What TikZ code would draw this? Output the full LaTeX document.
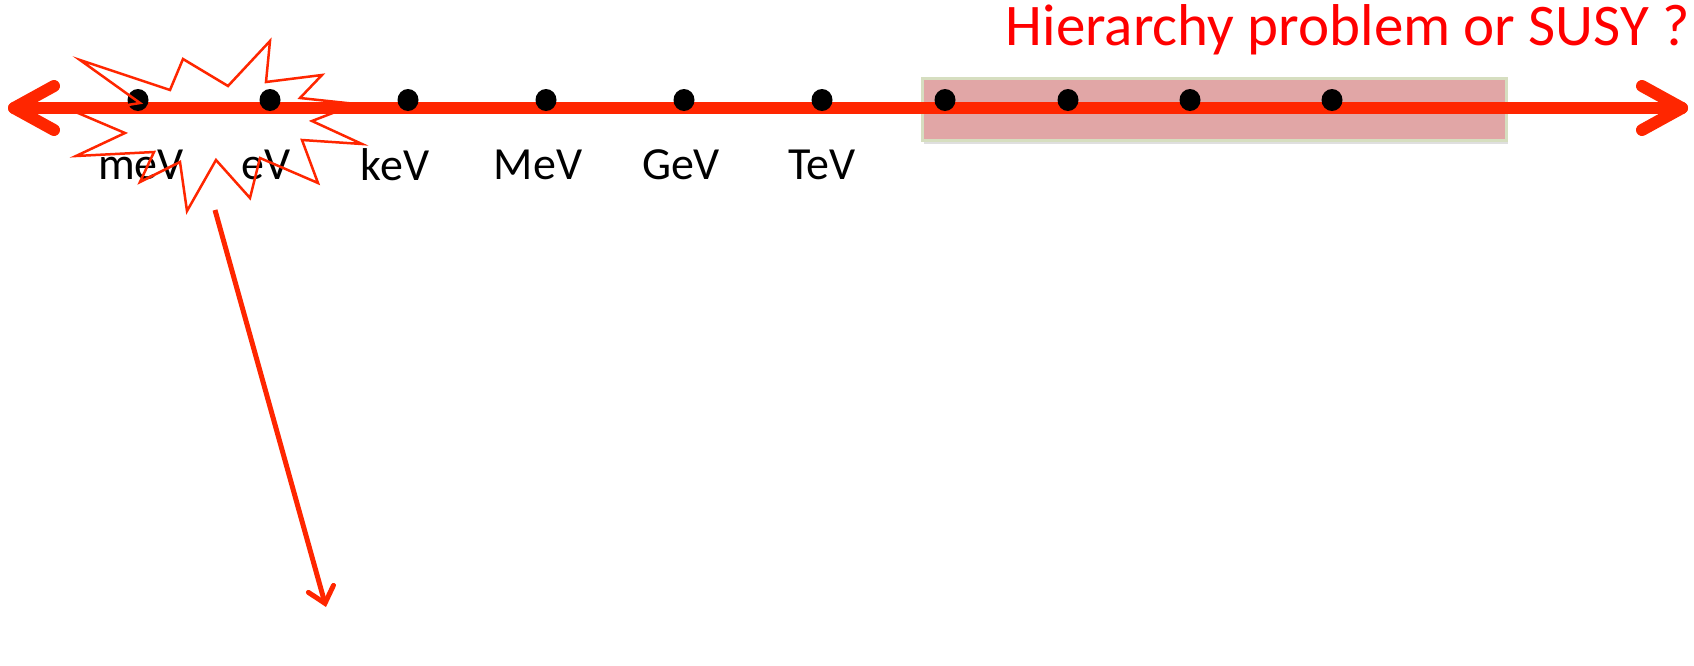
\documentclass[tikz,border=0pt]{standalone}
\usepackage{fontspec}
\setmainfont{Carlito}
\usetikzlibrary{arrows.meta,shapes.geometric,shadows,calc,fit}
\definecolor{axisred}{RGB}{255,38,0}
\definecolor{titlered}{RGB}{255,0,0}
\definecolor{boxfill}{RGB}{225,166,166}
\definecolor{boxedge}{RGB}{214,222,192}
\begin{document}
\begin{tikzpicture}[x=1pt,y=-1pt,
  axisline/.style={draw=axisred,line width=12pt,line cap=round,line join=round},
  dotnode/.style={ellipse,fill=black,minimum width=21pt,minimum height=22pt,inner sep=0pt},
  lbl/.style={font=\fontsize{46}{50}\selectfont,text=black,inner sep=0pt},
  titlenode/.style={font=\fontsize{59}{62}\selectfont,text=titlered,inner sep=0pt},
  burst/.style={draw=axisred,line width=2.5pt,line join=miter},
  ptr/.style={draw=axisred,line width=5pt,-{Straight Barb[length=15pt,width=26pt,line cap=round]}},
  hbox/.style={fill=boxfill,draw=boxedge,line width=3pt,
    drop shadow={opacity=0.25,shadow xshift=2pt,shadow yshift=-4pt}}]
\useasboundingbox (0,0) rectangle (1694,665);
% shaded range box
\node[hbox,fit={(922,78) (1506,140)},inner sep=0pt] (range) {};
% axis
\coordinate (L) at (14,108);
\coordinate (R) at (1682,108);
\draw[axisline] (L) -- (R);
\draw[axisline] ($(L)+(40,-22)$) -- (L) -- ($(L)+(40,22)$);
\draw[axisline] ($(R)+(-40,-22)$) -- (R) -- ($(R)+(-40,22)$);
% dots
\foreach \x/\n in {138/d1,270/d2,408/d3,546/d4,684/d5,822/d6,945/d7,1068/d8,1190/d9,1332/d10}
  \node[dotnode] (\n) at (\x,100) {};
% labels
\node[lbl] (lmeV) at (141,165) {meV};
\node[lbl] (leV) at (266,165) {eV};
\node[lbl] (lkeV) at (395,165) {keV};
\node[lbl] (lMeV) at (538,165) {MeV};
\node[lbl] (lGeV) at (681,165) {GeV};
\node[lbl] (lTeV) at (822,165) {TeV};
% title
\node[titlenode,anchor=base east] (title) at (1690,45) {Hierarchy problem or SUSY ?};
% starburst
\draw[burst] (80,60) -- (170,90) -- (183,59) -- (228,86) -- (270,41) -- (266,82)
  -- (322,75) -- (300,98) -- (356,104) -- (312,121) -- (362,144) -- (302,140)
  -- (318,183) -- (260,158) -- (250,198) -- (216,160) -- (187,211) -- (180,162)
  -- (140,182) -- (154,152) -- (76,156) -- (125,133) -- (78,113) -- (140,103) -- cycle;
% pointer arrow
\coordinate (ps) at (215,210);
\coordinate (pe) at (326,607);
\draw[ptr] (ps) -- (pe);
\end{tikzpicture}
\end{document}
